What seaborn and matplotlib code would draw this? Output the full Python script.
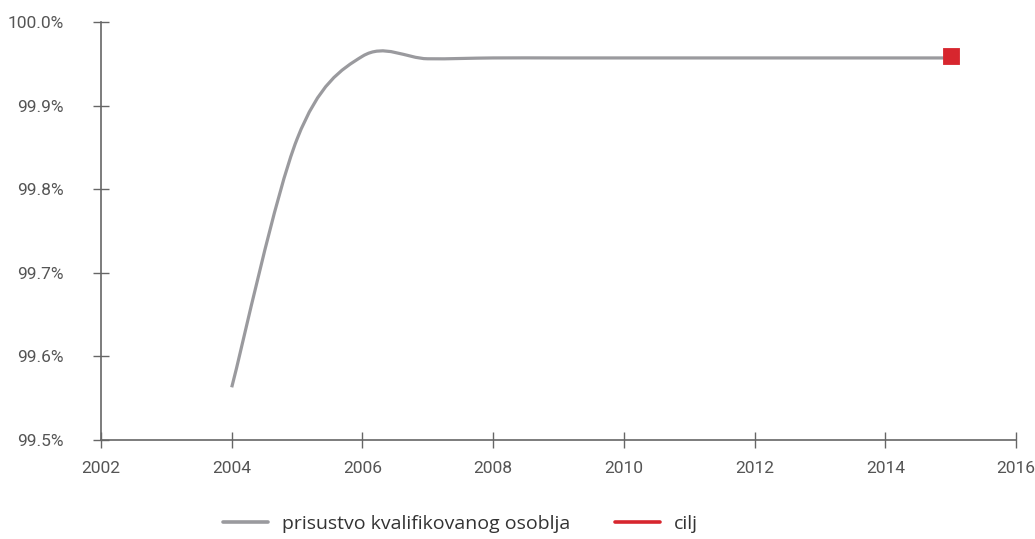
import numpy as np
import matplotlib
matplotlib.use("Agg")
import matplotlib.pyplot as plt
import seaborn as sns
from matplotlib.path import Path
from matplotlib.patches import PathPatch
from matplotlib.lines import Line2D
from matplotlib.ticker import FuncFormatter

# data
years = [2004, 2005, 2006, 2007, 2008, 2009, 2010, 2011, 2012, 2013, 2014, 2015]
share = [99.563, 99.860, 99.959, 99.956, 99.957, 99.957, 99.957, 99.957, 99.957, 99.957, 99.957, 99.957]
goal_year = [2015]
goal_value = [99.959]
x_ticks = [2002, 2004, 2006, 2008, 2010, 2012, 2014, 2016]
y_ticks = [99.5, 99.6, 99.7, 99.8, 99.9, 100.0]
series_label = "prisustvo kvalifikovanog osoblja"
goal_label = "cilj"

LINE_GREY = "#9a9a9e"
GOAL_RED = "#d7262e"
AXIS_GREY = "#666666"


def smooth_path(xs, ys):
    """Excel-style smoothed line: Catmull-Rom segments as cubic Beziers."""
    pts = np.column_stack([xs, ys]).astype(float)
    padded = np.vstack([pts[0], pts, pts[-1]])
    verts = [tuple(pts[0])]
    codes = [Path.MOVETO]
    for i in range(1, len(padded) - 2):
        p0, p1, p2, p3 = padded[i - 1], padded[i], padded[i + 1], padded[i + 2]
        c1 = p1 + (p2 - p0) / 6.0
        c2 = p2 - (p3 - p1) / 6.0
        verts += [tuple(c1), tuple(c2), tuple(p2)]
        codes += [Path.CURVE4] * 3
    return Path(verts, codes)


sns.set_style("ticks")
plt.rcParams["font.family"] = ["Roboto", "DejaVu Sans"]

fig = plt.figure(figsize=(10.35, 5.39), dpi=100)
ax = fig.add_axes([0.0976, 0.1837, 0.8840, 0.7755])

ax.add_patch(PathPatch(smooth_path(years, share), facecolor="none",
                       edgecolor=LINE_GREY, linewidth=2.3, capstyle="butt", zorder=2))

sns.scatterplot(x=goal_year, y=goal_value, ax=ax, marker="s", s=135,
                color=GOAL_RED, edgecolor=GOAL_RED, linewidth=0.6, zorder=3)

ax.set_xlim(2002, 2016)
ax.set_ylim(99.5, 100.0)
ax.set_xticks(x_ticks)
ax.set_yticks(y_ticks)
ax.yaxis.set_major_formatter(FuncFormatter(lambda v, _: f"{v:.1f}%"))

for side in ["top", "right"]:
    ax.spines[side].set_visible(False)
for side in ["left", "bottom"]:
    ax.spines[side].set_color(AXIS_GREY)
    ax.spines[side].set_linewidth(1.2)
ax.tick_params(axis="both", direction="inout", length=12, width=1.0,
               color=AXIS_GREY, labelcolor="#555555", labelsize=12.5)
ax.tick_params(axis="y", pad=21)
ax.tick_params(axis="x", pad=9)

handles = [Line2D([], [], color=LINE_GREY, linewidth=2.6),
           Line2D([], [], color=GOAL_RED, linewidth=2.6)]
fig.legend(handles, [series_label, goal_label], loc="center",
           bbox_to_anchor=(0.445, 0.028), ncol=2, frameon=False,
           prop={"family": ["Open Sans", "DejaVu Sans"], "size": 14},
           handlelength=2.3, handletextpad=0.75, columnspacing=2.3,
           labelcolor="#333333")

fig.savefig("out.png", dpi=100)
